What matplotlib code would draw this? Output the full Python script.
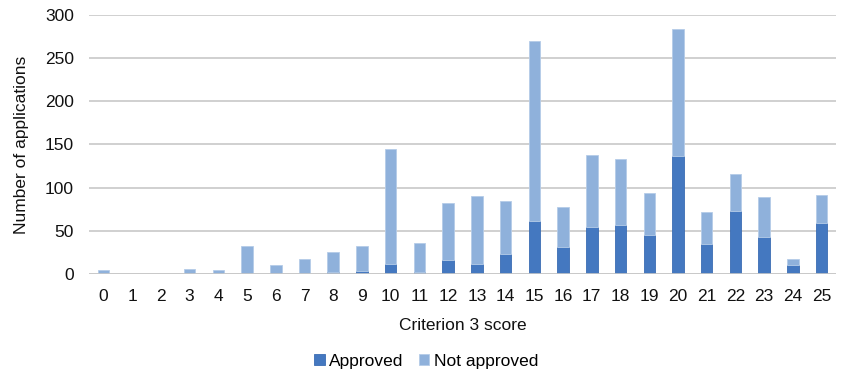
import matplotlib
matplotlib.use("Agg")
import matplotlib.pyplot as plt
import numpy as np

plt.rcParams["font.family"] = ["Liberation Sans", "DejaVu Sans"]

scores = list(range(26))
approved = [0, 0, 0, 0, 0, 0, 0, 0, 2, 4, 12, 2, 16, 12, 23, 61, 31, 54, 57, 45, 137, 35, 73, 43, 11, 59]
totals = [5, 0, 0, 6, 5, 32, 10, 18, 26, 32, 145, 36, 82, 90, 85, 270, 78, 138, 133, 94, 283, 72, 116, 89, 18, 92]
not_approved = [t - a for t, a in zip(totals, approved)]

FS = 12.5

fig = plt.figure(figsize=(8.44, 3.77), dpi=100)
ax = fig.add_axes([0.1055, 0.273, 0.885, 0.688])

x = np.array(scores)
ax.bar(x, approved, width=0.4, color="#4478C0", edgecolor="#3B6DB3", linewidth=0.6,
       label="Approved", zorder=3)
ax.bar(x, not_approved, width=0.4, bottom=approved, color="#8FB1DB",
       edgecolor="#B5CCE8", linewidth=0.6, label="Not approved", zorder=3)

ax.set_xlim(-0.5, 25.5)
ax.set_ylim(0, 300)
ax.set_yticks(range(0, 301, 50))
ax.set_xticks(x)
ax.set_xticklabels([str(s) for s in scores])
ax.yaxis.grid(True, color="#C8C8C8", linewidth=1.2, zorder=0)
for s in ax.spines.values():
    s.set_visible(False)
ax.axhline(0, color="#C8C8C8", linewidth=1.2, zorder=4)
ax.tick_params(axis="both", length=0, labelsize=FS, colors="#111111")
ax.tick_params(axis="x", pad=11)
ax.tick_params(axis="y", pad=11)

ax.set_xlabel("Criterion 3 score", fontsize=FS, color="#111111", labelpad=10)
ax.set_ylabel("Number of applications", fontsize=FS, color="#111111", labelpad=11)

fig.legend(loc="lower center", bbox_to_anchor=(0.505, -0.02), ncol=2, frameon=False,
           fontsize=FS, handlelength=0.6, handleheight=0.6, handletextpad=0.25,
           columnspacing=0.9)

fig.savefig("out.png", dpi=100)
